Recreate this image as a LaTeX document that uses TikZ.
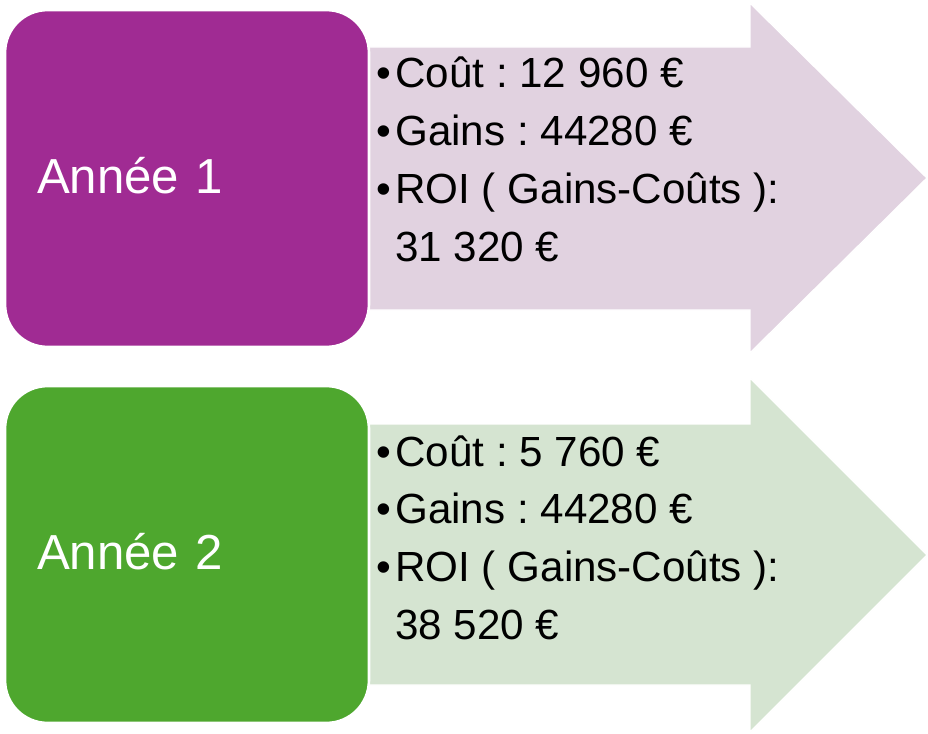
\documentclass[tikz,border=0pt]{standalone}
\usepackage{fontspec}
\setmainfont{Liberation Sans}
\usetikzlibrary{positioning}

\definecolor{annee1}{HTML}{A02B93}
\definecolor{annee1light}{HTML}{E1D2E0}
\definecolor{annee2}{HTML}{4EA72E}
\definecolor{annee2light}{HTML}{D5E4D1}

\newcommand{\puce}{\makebox[0.45em][l]{•}}
\frenchspacing

\begin{document}
\begin{tikzpicture}[
  x=0.02cm, y=-0.02cm,
  yearbox/.style={rectangle, draw=white, line width=1.5pt, rounded corners=0.85cm,
                  minimum width=7.28cm, minimum height=6.74cm,
                  text width=6.0cm, align=left, text=white,
                  font=\fontsize{28}{34}\selectfont},
  arrowbg/.style={draw=white, line width=0.8pt},
  info/.style={inner sep=0pt, anchor=base west,
               font=\fontsize{24}{33}\selectfont}
]
  \useasboundingbox (0,0) rectangle (928,733);

  % Année 1
  \fill[annee1light, arrowbg] (360,47) -- (750,47) -- (750,3) -- (927,178)
        -- (750,353) -- (750,310) -- (360,310) -- cycle;
  \node[yearbox, fill=annee1] (an1) at (187,178.5) {\raisebox{4pt}{Année 1}};
  \node[info] (info1) at (376,88) {\begin{tabular}[t]{@{}l@{}}
      \puce Coût : 12 960 €\\
      \puce Gains : 44280 €\\
      \puce ROI ( Gains-Coûts ):\\
      \hspace*{0.45em}31 320 €
    \end{tabular}};

  % Année 2
  \fill[annee2light, arrowbg] (360,424) -- (750,424) -- (750,378) -- (927,555)
        -- (750,732) -- (750,685) -- (360,685) -- cycle;
  \node[yearbox, fill=annee2] (an2) at (187,554.5) {\raisebox{4pt}{Année 2}};
  \node[info] (info2) at (376,466) {\begin{tabular}[t]{@{}l@{}}
      \puce Coût : 5 760 €\\
      \puce Gains : 44280 €\\
      \puce ROI ( Gains-Coûts ):\\
      \hspace*{0.45em}38 520 €
    \end{tabular}};
\end{tikzpicture}
\end{document}
